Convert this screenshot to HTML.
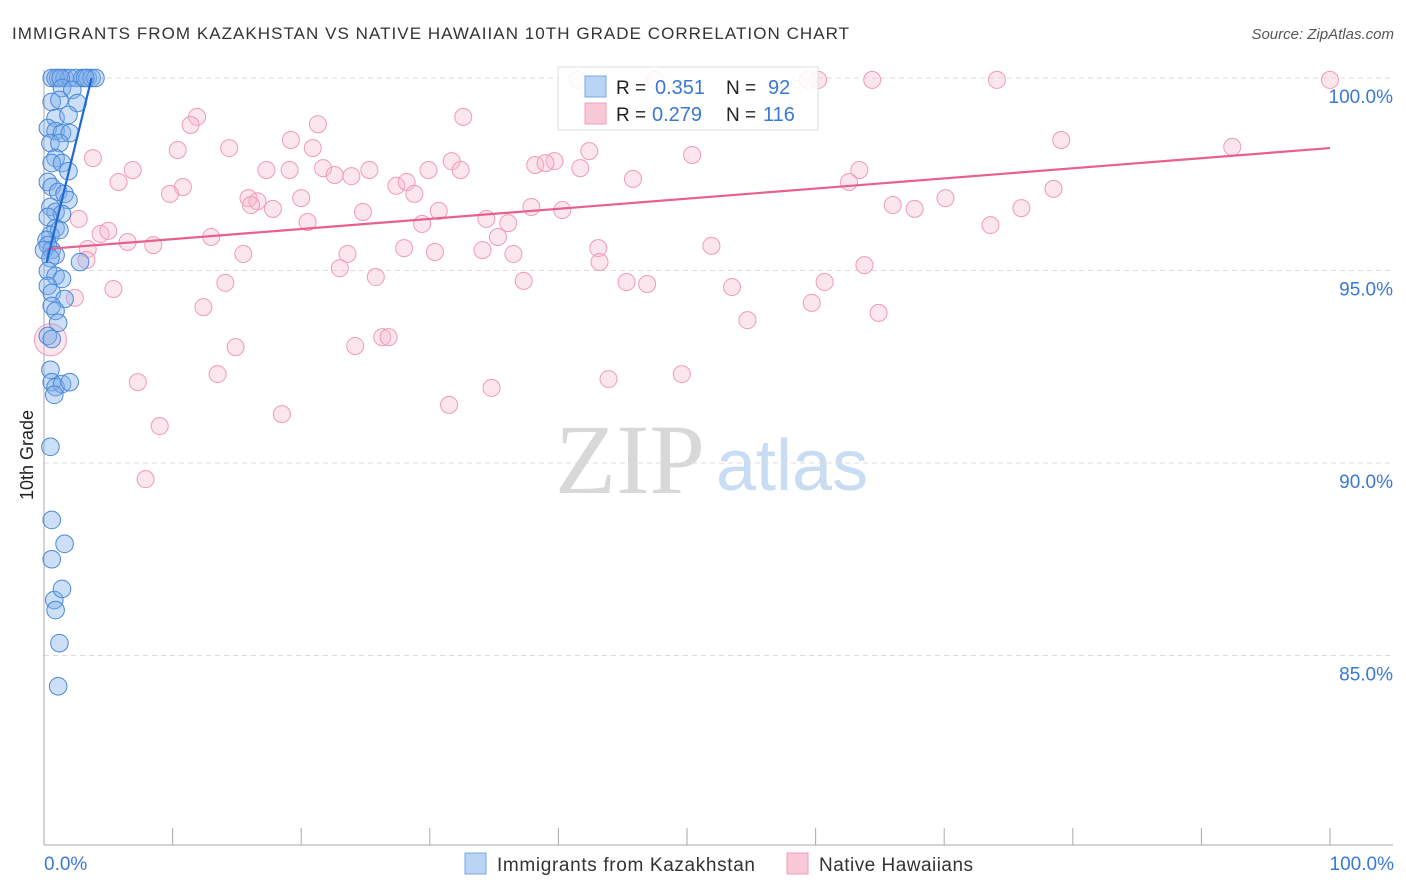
<!DOCTYPE html>
<html><head><meta charset="utf-8"><style>
body{margin:0;background:#fff;font-family:"Liberation Sans",sans-serif;}
#wrap{position:relative;width:1406px;height:892px;overflow:hidden}
</style></head><body><div id="wrap">
<svg id="svg" width="1406" height="892" xmlns="http://www.w3.org/2000/svg">
<text x="12" y="39" font-size="17" textLength="837" fill="#333">IMMIGRANTS FROM KAZAKHSTAN VS NATIVE HAWAIIAN 10TH GRADE CORRELATION CHART</text>
<text x="1394" y="39" font-size="15" fill="#555" font-style="italic" text-anchor="end">Source: ZipAtlas.com</text>
<text x="555" y="493" font-size="100" fill="#d8d8d8" font-family="Liberation Serif,serif">ZIP</text>
<text x="716" y="490" font-size="72" fill="#c8dcf2">atlas</text>
<g id="grid"></g><g id="axes"></g><g id="pink"></g><g id="blue"></g><g id="lines"></g>
<text transform="translate(33,455) rotate(-90)" font-size="18" fill="#222" text-anchor="middle">10th Grade</text>
<text x="44" y="870" font-size="19" fill="#3a78d8">0.0%</text>
<text x="1394" y="870" font-size="19" fill="#3a78d8" text-anchor="end">100.0%</text>
<g>
<rect x="465" y="853" width="21" height="21" fill="#b8d4f6" stroke="#7aa8e6"/>
<text x="497" y="871" font-size="19" textLength="258" fill="#333">Immigrants from Kazakhstan</text>
<rect x="787" y="853" width="21" height="21" fill="#f9c8d6" stroke="#f0a0b8"/>
<text x="819" y="871" font-size="19" textLength="154" fill="#333">Native Hawaiians</text>
</g>
<g>
<rect x="558" y="67" width="260" height="63" fill="#fff" fill-opacity="0.85" stroke="#ddd"/>
<rect x="585" y="76" width="21" height="21" fill="#b8d4f6" stroke="#7aa8e6"/>
<rect x="585" y="103" width="21" height="21" fill="#f9c8d6" stroke="#f0a0b8"/>
<text x="616" y="94" font-size="19" fill="#222">R =</text>
<text x="655" y="94" font-size="20" fill="#3a78d8">0.351</text>
<text x="726" y="94" font-size="19" fill="#222">N =</text>
<text x="768" y="94" font-size="20" fill="#3a78d8">92</text>
<text x="616" y="121" font-size="19" fill="#222">R =</text>
<text x="652" y="121" font-size="20" fill="#3a78d8">0.279</text>
<text x="726" y="121" font-size="19" fill="#222">N =</text>
<text x="763" y="121" font-size="20" fill="#3a78d8">116</text>
</g>
</svg>
<script>
const yTicks=[100,95,90,85];
const yTickLabels=["100.0%","95.0%","90.0%","85.0%"];
const xTicks=[0,10,20,30,40,50,60,70,80,90,100];
const pinkX=[41.5,47.5,59.4,60.2,64.4,74.1,100,11.9,11.4,21.3,32.6,19.2,79.1,92.4,3.8,10.4,14.4,20.9,50.4,42.4,31.7,39.7,38.2,39.0,6.9,17.3,19.1,21.7,25.3,22.6,23.9,29.9,32.4,41.7,63.4,5.8,10.8,9.8,27.4,28.2,28.8,45.8,62.6,78.5,15.9,16.6,16.1,17.8,20.0,24.8,30.7,37.9,40.3,66.0,67.7,70.1,76.0,2.7,20.5,34.4,29.4,36.1,73.6,4.4,5.0,13.0,6.5,8.5,35.3,43.1,51.9,3.4,15.5,23.6,28.0,30.4,34.1,36.5,3.3,23.0,43.2,63.8,25.8,37.3,45.3,46.9,60.7,14.1,5.4,53.5,2.4,12.4,59.7,64.9,54.7,14.9,24.2,26.3,26.8,0.5,13.5,7.3,43.9,49.6,34.8,18.5,31.5,9.0,7.9];
const pinkY=[99.95,99.95,99.95,99.95,99.95,99.95,99.95,98.99,98.78,98.8,98.99,98.39,98.39,98.21,97.92,98.13,98.18,98.18,98.0,98.1,97.84,97.84,97.74,97.79,97.61,97.61,97.61,97.66,97.61,97.48,97.45,97.61,97.61,97.66,97.61,97.3,97.17,96.99,97.2,97.3,96.99,97.38,97.3,97.12,96.88,96.8,96.7,96.6,96.88,96.52,96.55,96.65,96.57,96.7,96.6,96.88,96.62,96.34,96.26,96.34,96.21,96.23,96.18,95.95,96.03,95.87,95.74,95.66,95.87,95.58,95.64,95.56,95.43,95.43,95.58,95.48,95.53,95.43,95.27,95.06,95.22,95.14,94.83,94.73,94.7,94.65,94.7,94.68,94.52,94.57,94.29,94.05,94.16,93.9,93.71,93.01,93.04,93.27,93.27,93.2,92.31,92.1,92.18,92.31,91.95,91.27,91.51,90.96,89.58];
const blueX=[0.6,1.1,1.6,2.0,2.5,3.0,3.4,3.7,4.0,0.9,1.3,3.2,1.4,2.2,0.6,1.2,2.6,0.9,1.9,0.3,0.9,1.4,2.0,0.5,1.2,0.9,0.6,1.4,1.9,0.3,0.6,1.1,1.6,1.9,0.5,0.9,1.4,0.3,0.9,0.5,1.2,0.2,0.3,0.6,0,0.9,0.5,2.8,0.3,0.9,1.4,0.3,0.6,1.6,0.6,0.9,1.1,0.3,0.6,0.5,0.6,0.9,1.4,2.0,0.8,0.5,0.6,1.6,0.6,0.8,0.9,1.4,1.2,1.1];
const blueY=[100,100,100,100,100,100,100,100,100,100,100,100,99.74,99.69,99.38,99.43,99.35,98.96,99.04,98.7,98.62,98.57,98.57,98.31,98.31,97.92,97.79,97.79,97.58,97.3,97.17,97.04,96.99,96.83,96.65,96.52,96.47,96.39,96.1,95.92,96.05,95.79,95.66,95.53,95.53,95.4,95.32,95.22,94.99,94.86,94.78,94.6,94.42,94.26,94.08,93.95,93.64,93.3,93.22,92.42,92.1,91.97,92.05,92.1,91.77,90.42,88.52,87.9,87.5,86.44,86.18,86.73,85.32,84.2];
const pinkTrend=[[0.3,95.56],[100,98.18]];
const blueTrend=[[0.2,95.2],[3.7,100]];
const NS="http://www.w3.org/2000/svg";
const xs=v=>44+v*12.86, ys=v=>78+(100-v)*38.5;
function mk(tag,parent,attrs){const e=document.createElementNS(NS,tag);for(const k in attrs)e.setAttribute(k,attrs[k]);document.getElementById(parent).appendChild(e);return e;}
yTicks.forEach((t,i)=>{
 const l=mk('line','grid',{x1:44,x2:1393,y1:ys(t),y2:ys(t),stroke:'#ddd','stroke-dasharray':'5,4'});
 
 
 const tx=mk('text','grid',{x:1393,y:ys(t)+25,'font-size':19,fill:'#3a78d8','text-anchor':'end'});
 tx.textContent=yTickLabels[i];
 
 
});
const ax=mk('line','axes',{x1:44,x2:44,y1:70,y2:845,stroke:'#aaa'});


const bx=mk('line','axes',{x1:44,x2:1393,y1:845,y2:845,stroke:'#aaa'});


xTicks.forEach(t=>{const l=mk('line','axes',{x1:xs(t),x2:xs(t),y1:828,y2:845,stroke:'#aaa'});
 
 });
pinkX.forEach((x,i)=>{const c=mk('circle','pink',{cx:xs(x),cy:ys(pinkY[i]),r:(i==99?16:8.5),fill:'#f7b8cc','fill-opacity':0.35,stroke:'#f09ab6','stroke-width':1});
 
 });
blueX.forEach((x,i)=>{const c=mk('circle','blue',{cx:xs(x),cy:ys(blueY[i]),r:8.8,fill:'#7fb0ea','fill-opacity':0.4,stroke:'#4a88d8','stroke-width':1});
 
 });
const pl=mk('line','lines',{x1:xs(pinkTrend[0][0]),y1:ys(pinkTrend[0][1]),x2:xs(pinkTrend[1][0]),y2:ys(pinkTrend[1][1]),stroke:'#e8608c','stroke-width':2.2});


const bl=mk('line','lines',{x1:xs(blueTrend[0][0]),y1:ys(blueTrend[0][1]),x2:xs(blueTrend[1][0]),y2:ys(blueTrend[1][1]),stroke:'#1f68d8','stroke-width':2.2});


</script>
</div></body></html>
